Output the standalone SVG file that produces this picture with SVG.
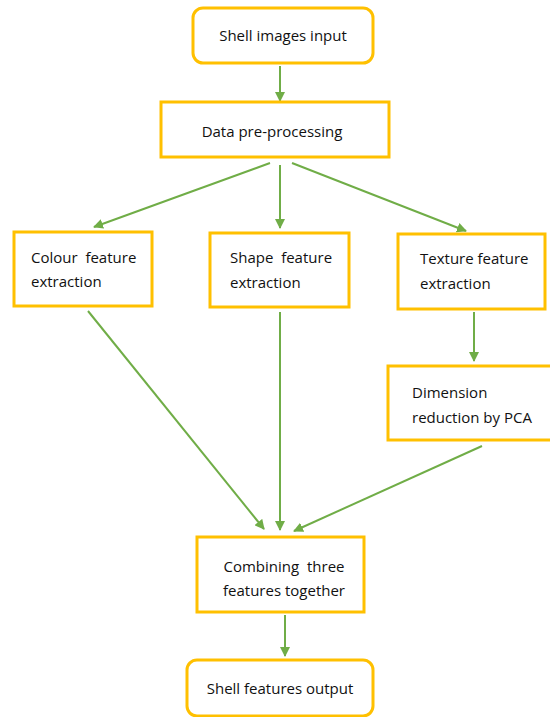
<svg xmlns="http://www.w3.org/2000/svg" width="550" height="717" viewBox="0 0 550 717">
<style>
.box{fill:#fff;stroke:#FFC000;stroke-width:3}
.t{font-family:"Open Sans","Liberation Sans",sans-serif;font-size:15px;fill:#111;white-space:pre}
.c{text-anchor:middle}
.e{stroke:#70AD47;stroke-width:2;fill:none;marker-end:url(#ah)}
</style>
<defs>
<marker id="ah" viewBox="0 0 10 10" refX="9" refY="5" markerWidth="5" markerHeight="5" orient="auto" markerUnits="strokeWidth">
<path d="M0,0 L10,5 L0,10 z" fill="#70AD47"/>
</marker>
</defs>
<g id="connectors">
<line class="e" x1="280" y1="66" x2="280" y2="101"/>
<line class="e" x1="270" y1="163" x2="94" y2="227"/>
<line class="e" x1="280" y1="165" x2="280" y2="228"/>
<line class="e" x1="292" y1="163" x2="466" y2="231"/>
<line class="e" x1="474" y1="312" x2="474" y2="361"/>
<line class="e" x1="88" y1="311" x2="264" y2="529"/>
<line class="e" x1="280" y1="312" x2="280" y2="530"/>
<line class="e" x1="482" y1="446" x2="294" y2="531"/>
<line class="e" x1="285" y1="615" x2="285" y2="656"/>
</g>
<g id="n1"><rect class="box" x="193" y="8" width="180" height="55" rx="10"/><text class="t c" x="283" y="41">Shell images input</text></g>
<g id="n2"><rect class="box" x="161" y="102" width="228" height="55"/><text class="t c" x="272" y="137">Data pre-processing</text></g>
<g id="n3"><rect class="box" x="14" y="232" width="138" height="74"/><text class="t" x="31" y="263">Colour  feature</text><text class="t" x="31" y="287">extraction</text></g>
<g id="n4"><rect class="box" x="210" y="233" width="139" height="74"/><text class="t" x="230" y="263">Shape  feature</text><text class="t" x="230" y="288">extraction</text></g>
<g id="n5"><rect class="box" x="398" y="234" width="147" height="75"/><text class="t" x="420" y="264">Texture feature</text><text class="t" x="420" y="289">extraction</text></g>
<g id="n6"><rect class="box" x="388" y="366" width="170" height="74"/><text class="t" x="412" y="398">Dimension</text><text class="t" x="412" y="423">reduction by PCA</text></g>
<g id="n7"><rect class="box" x="197" y="537" width="167" height="75"/><text class="t c" x="284" y="572">Combining  three</text><text class="t c" x="284" y="596">features together</text></g>
<g id="n8"><rect class="box" x="187" y="660" width="186" height="56" rx="10"/><text class="t c" x="280" y="694">Shell features output</text></g>
</svg>
